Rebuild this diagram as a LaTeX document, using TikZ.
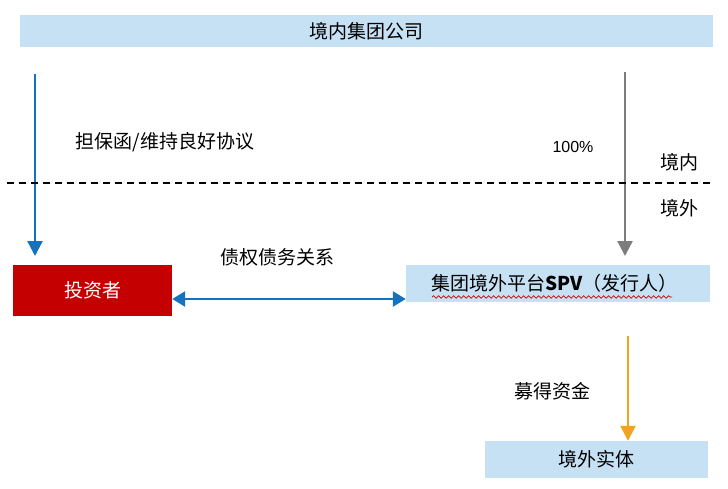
\documentclass[tikz,border=0pt]{standalone}
\usepackage{fontspec}
\setmainfont{Noto Sans CJK SC}
\newfontfamily\latinsans{Liberation Sans}
\usetikzlibrary{arrows.meta,decorations.pathmorphing}
\definecolor{barblue}{RGB}{198,224,244}
\definecolor{boxred}{RGB}{196,0,0}
\definecolor{arrblue}{RGB}{20,114,190}
\definecolor{arrgray}{RGB}{125,125,125}
\definecolor{arrorange}{RGB}{243,164,30}
\tikzset{
  cjk/.style={font=\fontsize{19}{22}\selectfont},
  lbox/.style={fill=barblue,draw=none,inner sep=0pt,cjk},
  rbox/.style={fill=boxred,draw=none,inner sep=0pt,text=white,cjk},
  lbl/.style={inner sep=0pt,cjk},
  conn/.style={line width=2.4pt,-{Triangle[length=15pt,width=15pt]}},
  dconn/.style={line width=2.6pt,{Triangle[length=13pt,width=15pt]}-{Triangle[length=13pt,width=15pt]}},
}
\begin{document}
\begin{tikzpicture}[x=1pt,y=-1pt]
\useasboundingbox (0,0) rectangle (728,488);
% boxes
\node[lbox,minimum width=693pt,minimum height=32pt] (top) at (366.5,31) {境内集团公司};
\node[rbox,minimum width=159pt,minimum height=51pt] (inv) at (92.5,290.5) {投资者};
\node[lbox,minimum width=304pt,minimum height=37pt] (spv) at (558,283.5) {};
\node[lbl,anchor=west] (spvt) at (431,283.5) {集团境外平台\textbf{SPV}（发行人）};
\node[lbox,minimum width=223pt,minimum height=37pt] (ent) at (596.5,459.5) {境外实体};
% coordinates
\coordinate (a1) at (35,74);
\coordinate (a2) at (35,256);
\coordinate (g1) at (625,72);
\coordinate (g2) at (625,256);
\coordinate (o1) at (628,336);
\coordinate (d1) at (7,183);
\coordinate (d2) at (713,183);
\coordinate (w1) at (432,297);
\coordinate (w2) at (672,297);
% arrows
\draw[conn,draw=arrblue,fill=arrblue] (a1) -- (a2);
\draw[conn,draw=arrgray,fill=arrgray] (g1) -- (g2);
\draw[conn,draw=arrorange,fill=arrorange] (o1) -- (o1 |- ent.north);
\draw[dconn,draw=arrblue,fill=arrblue] (inv.east |- 0,299) -- (spv.west |- 0,299);
% dashed border
\draw[line width=1.5pt,dash pattern=on 7pt off 5pt] (d1) -- (d2);
% wavy underline
\draw[red!85!black,line width=0.7pt,decorate,decoration={snake,amplitude=1.3pt,segment length=5pt}] (w1) -- (w2);
% labels
\node[lbl] (l1) at (165,142) {担保函/维持良好协议};
\node[lbl,font=\fontsize{16}{18}\selectfont\latinsans] (l2) at (573,147) {100\%};
\node[lbl] (l3) at (679,162) {境内};
\node[lbl] (l4) at (679,208) {境外};
\node[lbl] (l5) at (277,257) {债权债务关系};
\node[lbl] (l6) at (552,391) {募得资金};
\end{tikzpicture}
\end{document}
